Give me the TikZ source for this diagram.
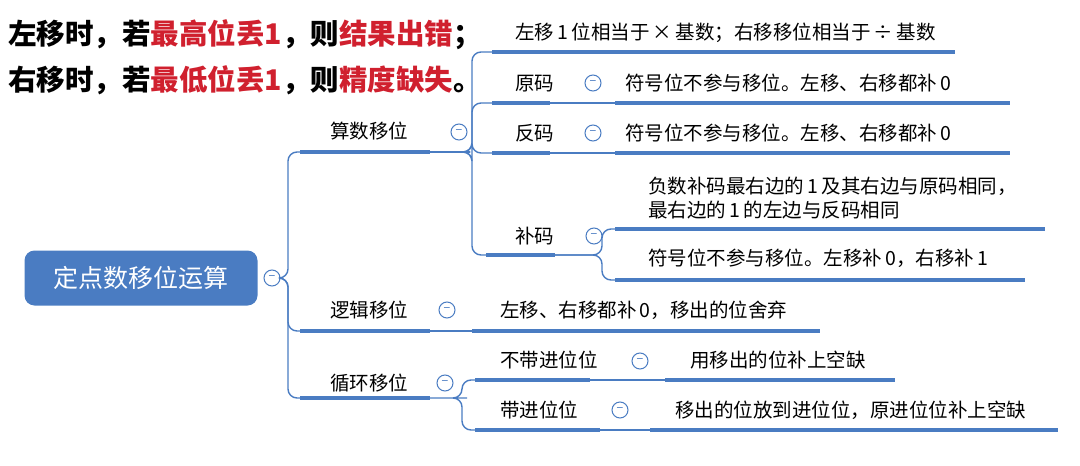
\documentclass[tikz,border=0pt]{standalone}
\usepackage{fontspec}
\setmainfont{Noto Sans CJK SC}
\begin{document}
\begin{tikzpicture}[x=1pt,y=-1pt,
  ul/.style={line width=4pt,draw=lb},
  con/.style={line width=1.4pt,draw=lb,rounded corners=9pt},
  lbl/.style={anchor=base west,font=\fontsize{19.5}{22}\selectfont,inner sep=0},
  cbtn/.style={circle,draw=lb,line width=1pt,minimum size=16pt,inner sep=0,fill=white,font=\fontsize{12}{12}\selectfont\color{lb}},
  ]
\definecolor{lb}{HTML}{4A7CC2}
\definecolor{rd}{HTML}{D0202E}
\useasboundingbox (0,0) rectangle (1080,466);
% heading
\node[anchor=base west,inner sep=0,font=\fontsize{28.5}{30}\selectfont\bfseries] (h1) at (8,44) {左移时，若\textcolor{rd}{最高位丢1}，则\textcolor{rd}{结果出错}；};
\node[anchor=base west,inner sep=0,font=\fontsize{28.5}{30}\selectfont\bfseries] (h2) at (8,90) {右移时，若\textcolor{rd}{最低位丢1}，则\textcolor{rd}{精度缺失}。};
% root
\node[fill=lb,rounded corners=10pt,minimum width=233pt,minimum height=55pt,text=white,font=\fontsize{25}{27}\selectfont] (root) at (141,278) {定点数移位运算};
\node[cbtn] (rb) at (272,278) {−};
% level 1 underlines
\coordinate (aL) at (300,152); \coordinate (aR) at (430,152); \coordinate (aE) at (470,152);
\coordinate (lL) at (300,331); \coordinate (lR) at (430,331);
\coordinate (xL) at (300,398); \coordinate (xR) at (430,398); \coordinate (xE) at (458,398);
\draw[con] (rb.east) -- (288,278) |- (aL);
\draw[con] (rb.east) -- (288,278) |- (lL);
\draw[con] (rb.east) -- (288,278) |- (xL);
\draw[ul] (aL) -- (aR); \draw[ul] (lL) -- (lR); \draw[ul] (xL) -- (xR);
\draw[con] (aR) -- (aE);
\node[lbl] (ta) at (330,138) {算数移位};
\node[lbl] (tl) at (330,317) {逻辑移位};
\node[lbl] (tx) at (330,390) {循环移位};
\node[cbtn] (ab) at (459,132) {−};
\node[cbtn] (lb1) at (447,310) {−};
\node[cbtn] (xb) at (445,383) {−};
% arithmetic children
\coordinate (c1L) at (492,52); \coordinate (c1R) at (955,52);
\coordinate (c2L) at (492,103); \coordinate (c2R) at (550,103);
\coordinate (c3L) at (492,153); \coordinate (c3R) at (550,153);
\coordinate (c4L) at (486,255); \coordinate (c4R) at (555,255);
\foreach \c in {c1L,c2L,c3L,c4L} \draw[con] (aE) -- (472,152) |- (\c);
\draw[ul] (c1L) -- (c1R); \draw[ul] (c2L) -- (c2R); \draw[ul] (c3L) -- (c3R); \draw[ul] (c4L) -- (c4R);
\node[lbl] (t1) at (515,39) {左移\,1\,位相当于\,×\,基数；右移移位相当于\,÷\,基数};
\node[lbl] (t2) at (515,90) {原码};
\node[lbl] (t3) at (515,140) {反码};
\node[lbl] (t4) at (515,243) {补码};
\node[cbtn] (b2) at (593,83) {−};
\node[cbtn] (b3) at (593,133) {−};
\node[cbtn] (b4) at (594,236) {−};
\coordinate (d2L) at (615,103); \coordinate (d2R) at (1010,103);
\coordinate (d3L) at (615,153); \coordinate (d3R) at (1010,153);
\draw[con] (c2R) -- (d2L); \draw[con] (c3R) -- (d3L);
\draw[ul] (d2L) -- (d2R); \draw[ul] (d3L) -- (d3R);
\node[lbl] (u2) at (625,90) {符号位不参与移位。左移、右移都补\,0};
\node[lbl] (u3) at (625,140) {符号位不参与移位。左移、右移都补\,0};
% 补码 children
\coordinate (e1L) at (615,229); \coordinate (e1R) at (1045,229);
\coordinate (e2L) at (615,280); \coordinate (e2R) at (1025,280);
\draw[con] (c4R) -- (602,255) |- (e1L);
\draw[con] (c4R) -- (602,255) |- (e2L);
\draw[ul] (e1L) -- (e1R); \draw[ul] (e2L) -- (e2R);
\node[lbl] (v1) at (648,193) {负数补码最右边的\,1\,及其右边与原码相同，};
\node[lbl] (v1b) at (648,217) {最右边的\,1\,的左边与反码相同};
\node[lbl] (v2) at (648,265) {符号位不参与移位。左移补\,0，右移补\,1};
% logic child
\coordinate (gL) at (472,331); \coordinate (gR) at (820,331);
\draw[con] (lR) -- (gL); \draw[ul] (gL) -- (gR);
\node[lbl] (w1) at (500,317) {左移、右移都补\,0，移出的位舍弃};
% cyclic children
\coordinate (k1L) at (475,380); \coordinate (k1R) at (590,380);
\coordinate (k2L) at (475,430); \coordinate (k2R) at (600,430);
\draw[con] (xR) -- (xE) -- (462,398) |- (k1L);
\draw[con] (xE) -- (462,398) |- (k2L);
\draw[ul] (k1L) -- (k1R); \draw[ul] (k2L) -- (k2R);
\node[lbl] (y1) at (500,367) {不带进位位};
\node[lbl] (y2) at (500,417) {带进位位};
\node[cbtn] (yb1) at (640,361) {−};
\node[cbtn] (yb2) at (620,410) {−};
\coordinate (m1L) at (665,380); \coordinate (m1R) at (895,380);
\coordinate (m2L) at (650,430); \coordinate (m2R) at (1058,430);
\draw[con] (k1R) -- (m1L); \draw[con] (k2R) -- (m2L);
\draw[ul] (m1L) -- (m1R); \draw[ul] (m2L) -- (m2R);
\node[lbl] (z1) at (690,367) {用移出的位补上空缺};
\node[lbl] (z2) at (675,417) {移出的位放到进位位，原进位位补上空缺};
\end{tikzpicture}
\end{document}
